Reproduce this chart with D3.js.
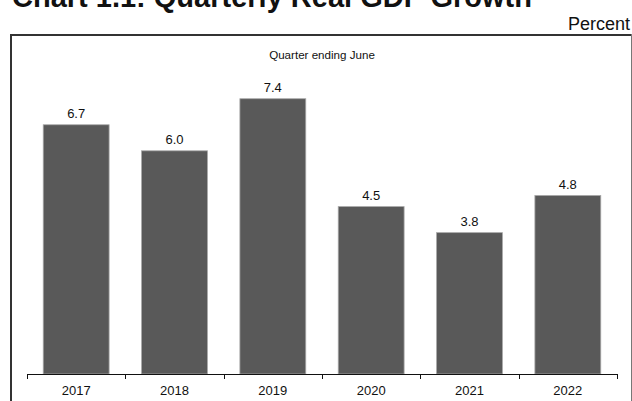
<!DOCTYPE html>
<html>
<head>
<meta charset="utf-8">
<script src="https://cdn.jsdelivr.net/npm/d3@7"></script>
<style>
  html, body { margin: 0; padding: 0; background: #fff; }
  svg { display: block; font-family: "Liberation Sans", Arial, sans-serif; }
</style>
</head>
<body>
<svg id="chart" width="632" height="401"></svg>
<script>
// Quarterly real GDP growth, quarter ending June (percent)
const years = ["2017", "2018", "2019", "2020", "2021", "2022"];
const growth = [6.7, 6.0, 7.4, 4.5, 3.8, 4.8];

const svg = d3.select("#chart");
const W = 632, H = 401;

// Title (runs off the top edge)
svg.append("text")
  .attr("x", 12).attr("y", 7)
  .attr("font-size", 29).attr("font-weight", "bold")
  .attr("fill", "#111")
  .text("Chart 1.1: Quarterly Real GDP Growth");

svg.append("text")
  .attr("x", 630).attr("y", 30)
  .attr("text-anchor", "end")
  .attr("font-size", 18).attr("fill", "#111")
  .text("Percent");

// Panel frame
svg.append("line").attr("x1", 11).attr("x2", 11).attr("y1", 34).attr("y2", H)
  .attr("stroke", "#333").attr("stroke-width", 2);
svg.append("line").attr("x1", 10).attr("x2", 632).attr("y1", 35).attr("y2", 35)
  .attr("stroke", "#333").attr("stroke-width", 2);
svg.append("line").attr("x1", 631.5).attr("x2", 631.5).attr("y1", 34).attr("y2", H)
  .attr("stroke", "#777").attr("stroke-width", 1);

svg.append("text")
  .attr("x", 322).attr("y", 59)
  .attr("text-anchor", "middle")
  .attr("font-size", 11.6).attr("fill", "#111")
  .text("Quarter ending June");

const x = d3.scaleBand().domain(years).range([27, 617]).paddingInner(0.33).paddingOuter(0.165);
const y = d3.scaleLinear().domain([0, 9]).range([374, 39.2]);

svg.append("g").selectAll("rect")
  .data(years)
  .join("rect")
  .attr("x", d => x(d))
  .attr("width", x.bandwidth())
  .attr("y", (d, i) => y(growth[i]))
  .attr("height", (d, i) => y(0) - y(growth[i]))
  .attr("fill", "#595959")
  .attr("stroke", "#a8a8a8")
  .attr("stroke-width", 0.8);

svg.append("g").selectAll("text")
  .data(years)
  .join("text")
  .attr("x", d => x(d) + x.bandwidth() / 2)
  .attr("y", (d, i) => y(growth[i]) - 6.5)
  .attr("text-anchor", "middle")
  .attr("font-size", 13).attr("fill", "#111")
  .text((d, i) => growth[i].toFixed(1));

// Category axis with tick marks at band boundaries
const xt = d3.scalePoint().domain(d3.range(years.length + 1)).range([27, 617]);
const axis = svg.append("g").attr("transform", "translate(0,374)");
axis.append("line").attr("x1", 27).attr("x2", 617).attr("y1", 0.5).attr("y2", 0.5)
  .attr("stroke", "#111").attr("stroke-width", 1);
axis.selectAll(".tick")
  .data(xt.domain())
  .join("line")
  .attr("x1", d => Math.round(xt(d)) + 0.5).attr("x2", d => Math.round(xt(d)) + 0.5)
  .attr("y1", 0).attr("y2", 5)
  .attr("stroke", "#111");
axis.selectAll(".lbl")
  .data(years)
  .join("text")
  .attr("x", d => x(d) + x.bandwidth() / 2)
  .attr("y", 21)
  .attr("text-anchor", "middle")
  .attr("font-size", 13).attr("fill", "#111")
  .text(d => d);
</script>
</body>
</html>
